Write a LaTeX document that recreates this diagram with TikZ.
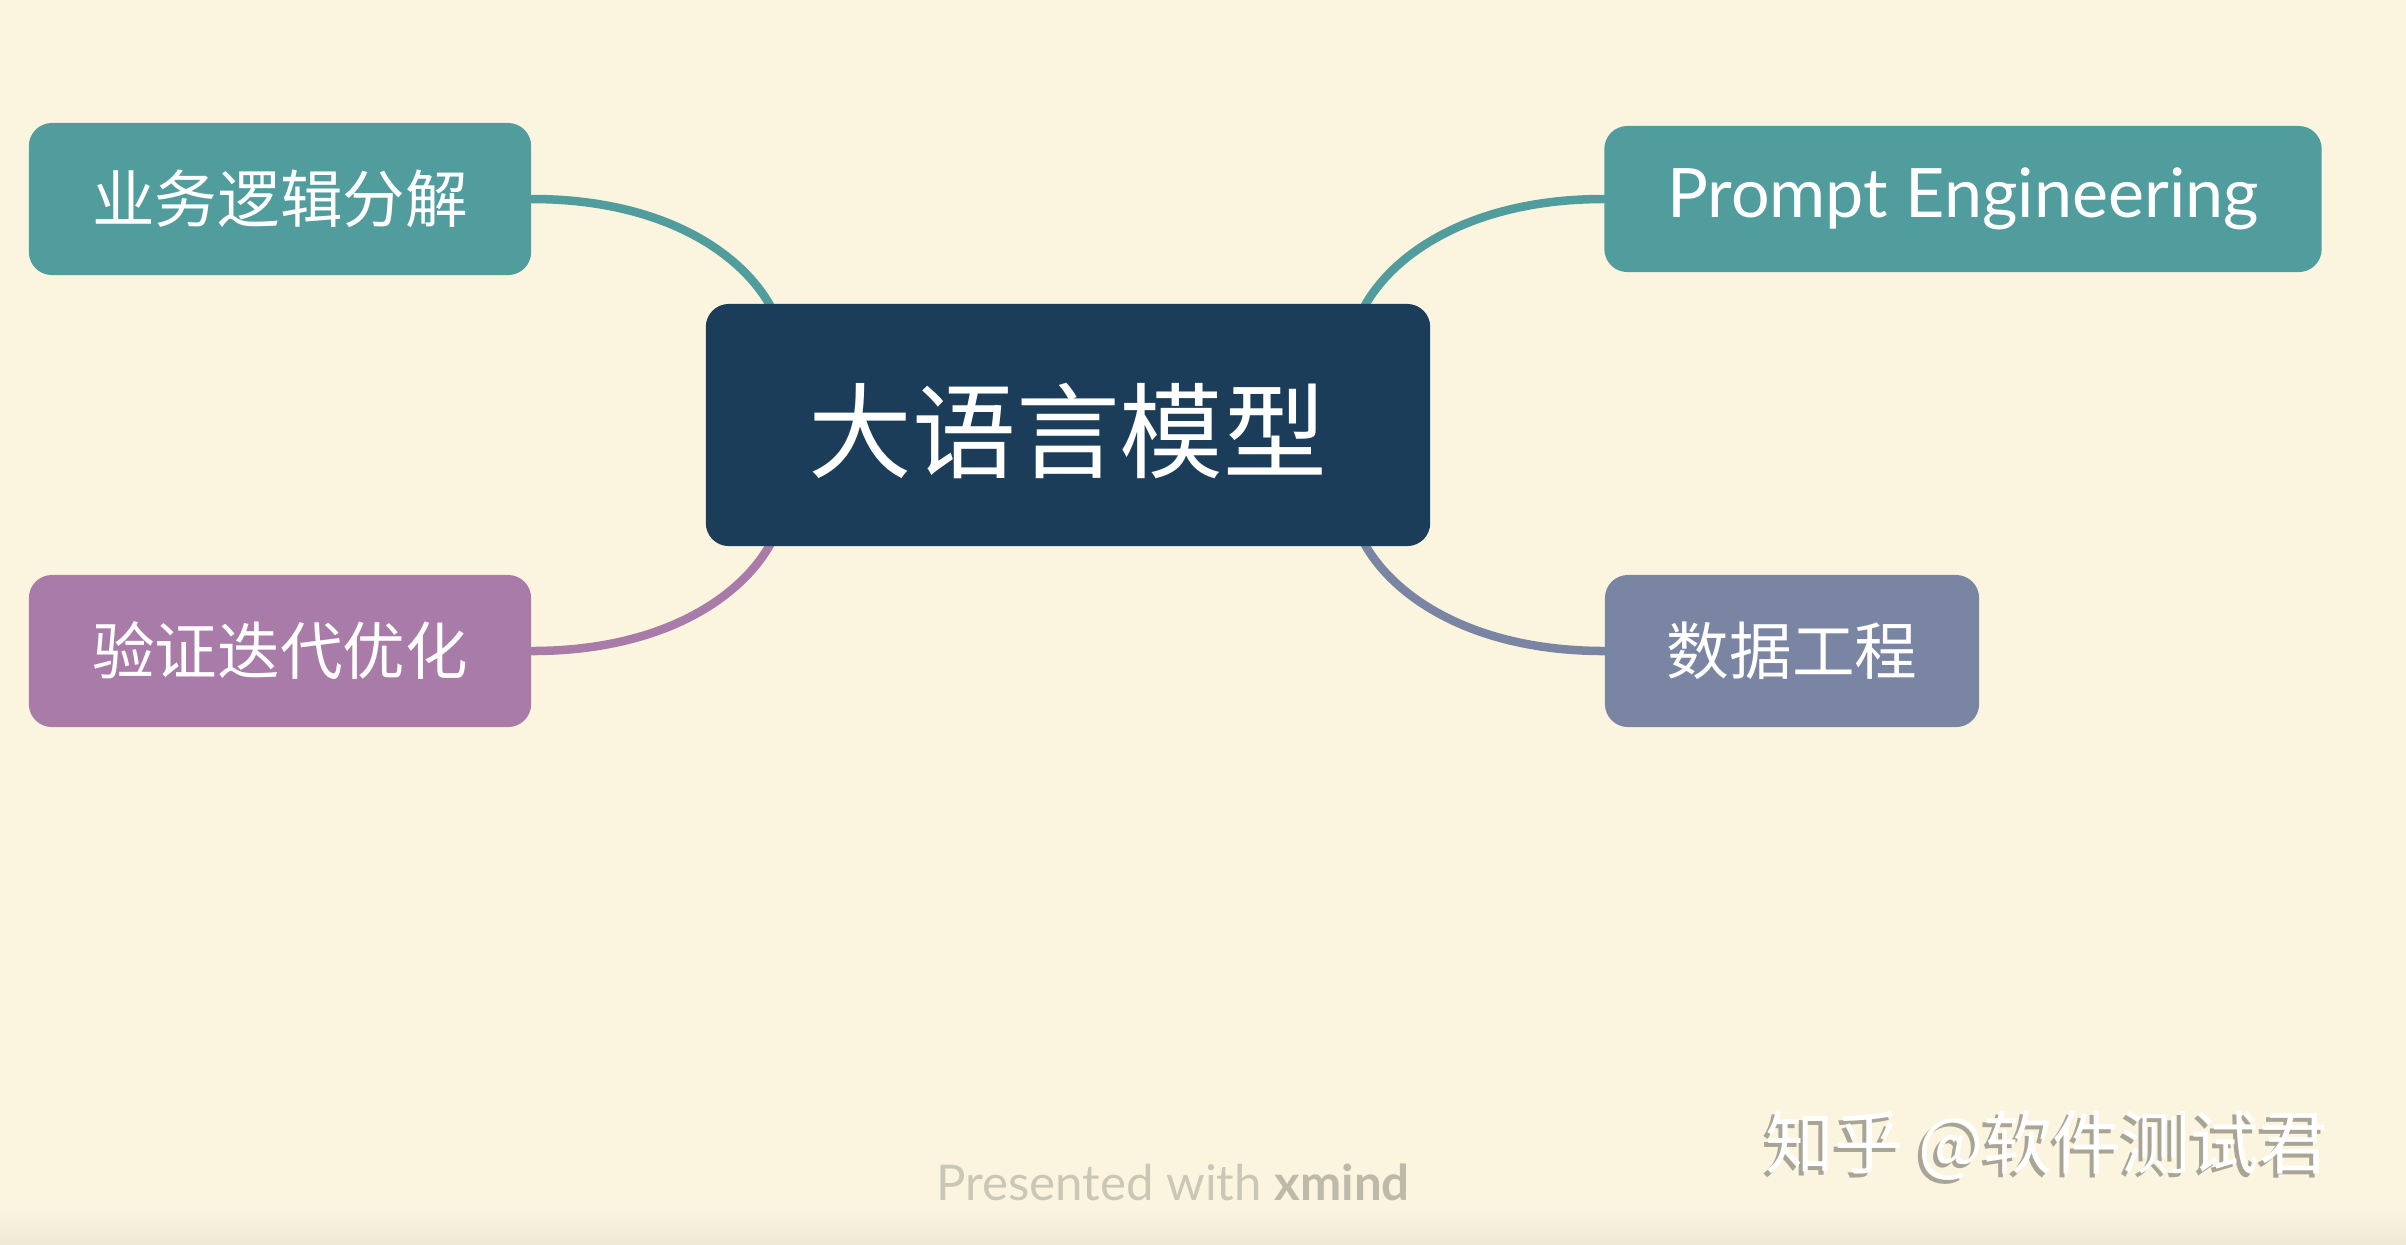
\documentclass[tikz,border=0pt]{standalone}
\usepackage{fontspec}
\setmainfont{Lato}
\newfontfamily\cjk{Noto Sans CJK SC}
\usetikzlibrary{calc,backgrounds}
\definecolor{bg}{HTML}{FBF5E0}
\definecolor{cTeal}{HTML}{519D9E}
\definecolor{cPurple}{HTML}{A97BA8}
\definecolor{cSlate}{HTML}{7A85A3}
\definecolor{cNavy}{HTML}{1B3D5A}
\definecolor{cMark}{HTML}{CBC7B6}
\definecolor{cMarkB}{HTML}{BEBAA9}
\definecolor{cShadow}{HTML}{A8A496}
\begin{document}
\begin{tikzpicture}[x=0.01cm,y=-0.01cm,
  topic/.style={rounded corners=0.23cm, text=white, inner sep=0pt, align=center},
  subfont/.style={font=\cjk\fontsize{17.8}{20}\selectfont},
  link/.style={line width=0.085cm, line cap=round}]
\useasboundingbox (0,0) rectangle (2406,1244);
% nodes
\node[topic, fill=cNavy, minimum width=7.24cm, minimum height=2.42cm,
  font=\cjk\fontsize{29.5}{32}\selectfont] (c) at (1068,425) {\raisebox{-0.455cm}[0pt][0pt]{大语言模型}};
\node[topic, subfont, fill=cTeal, minimum width=5.02cm, minimum height=1.52cm] (tl) at (280,199) {业务逻辑分解};
\node[topic, subfont, fill=cPurple, minimum width=5.02cm, minimum height=1.52cm] (bl) at (280,651) {验证迭代优化};
\node[topic, fill=cTeal, minimum width=7.17cm, minimum height=1.46cm,
  font=\fontsize{19.4}{22}\selectfont] (tr) at (1963,199) {Prompt Engineering};
\node[topic, subfont, fill=cSlate, minimum width=3.74cm, minimum height=1.52cm] (br) at (1792,651) {数据工程};
% watermark texts
\node[font=\fontsize{14}{16}\selectfont, text=cMark] (pres) at (1173,1182) {Presented with \textcolor{cMarkB}{\textbf{xmind}}};
\node[font=\cjk\fontsize{19.6}{21}\selectfont, text=cShadow] (wms) at (2043,1149) {知乎 @软件测试君};
\node[font=\cjk\fontsize{19.6}{21}\selectfont, text=white] (wm) at (2047,1145) {知乎 @软件测试君};
% background and connectors
\begin{scope}[on background layer]
  \fill[bg] (0,0) rectangle (2406,1244);
  \shade[top color=bg, bottom color=bg!92!black!60!bg] (0,1205) rectangle (2406,1244);
  \draw[link, cTeal] (tl.east) .. controls +(130,0) and +(-30,-55) .. ($(c.north west)+(66,4)$);
  \draw[link, cPurple] (bl.east) .. controls +(130,0) and +(-30,55) .. ($(c.south west)+(66,-4)$);
  \draw[link, cTeal] (tr.west) .. controls +(-130,0) and +(30,-55) .. ($(c.north east)+(-67,4)$);
  \draw[link, cSlate] (br.west) .. controls +(-130,0) and +(30,55) .. ($(c.south east)+(-67,-4)$);
\end{scope}
\end{tikzpicture}
\end{document}
